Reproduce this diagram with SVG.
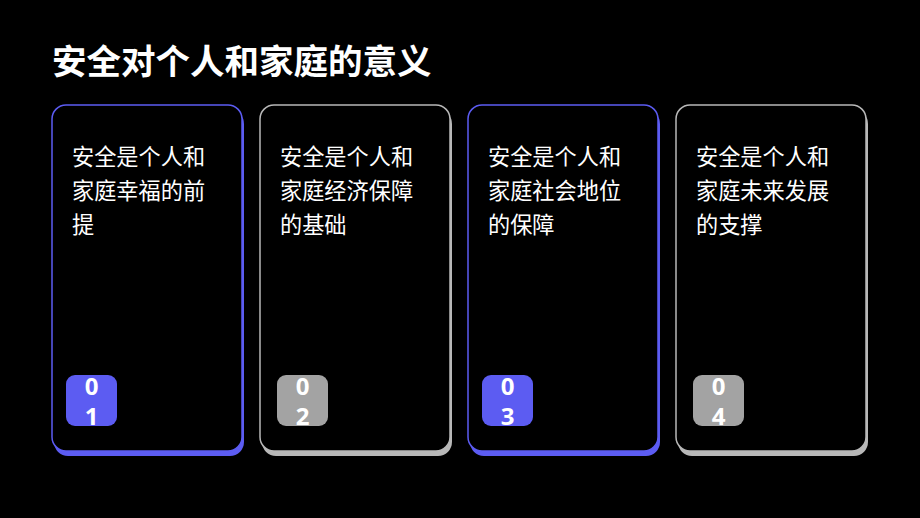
<svg xmlns="http://www.w3.org/2000/svg" width="920" height="518" viewBox="0 0 920 518">
<style>
.title{font-family:"Noto Sans CJK SC","Noto Sans",sans-serif;font-weight:bold;font-size:34.5px;fill:#ffffff}
.txt{font-family:"Noto Sans CJK SC","Noto Sans",sans-serif;font-size:22.2px;fill:#ffffff}
.num{font-family:"Open Sans","DejaVu Sans",sans-serif;font-weight:bold;font-size:24px;fill:#ffffff;text-anchor:middle}
.card{fill:#000000;stroke-width:1.5}
.blue .shadow{fill:#5c5cf2}
.blue .card{stroke:#5c5cf2}
.blue .badge{fill:#5c5cf2}
.gray .shadow{fill:#b8b8b8}
.gray .card{stroke:#b8b8b8}
.gray .badge{fill:#a3a3a3}
</style>
<rect width="920" height="518" fill="#000000"/>
<text class="title" x="52" y="74">安全对个人和家庭的意义</text>
<g id="card1" class="blue">
<rect class="shadow" x="54" y="110" width="190" height="346" rx="14"/>
<rect class="card" x="52" y="105" width="190" height="346" rx="14"/>
<text class="txt" x="72" y="165">安全是个人和</text>
<text class="txt" x="72" y="199">家庭幸福的前</text>
<text class="txt" x="72" y="233">提</text>
<rect class="badge" x="66" y="375" width="51" height="51" rx="9"/>
<text class="num" x="91.5" y="395">0</text>
<text class="num" x="91.5" y="425">1</text>
</g>
<g id="card2" class="gray">
<rect class="shadow" x="262" y="110" width="190" height="346" rx="14"/>
<rect class="card" x="260" y="105" width="190" height="346" rx="14"/>
<text class="txt" x="280" y="165">安全是个人和</text>
<text class="txt" x="280" y="199">家庭经济保障</text>
<text class="txt" x="280" y="233">的基础</text>
<rect class="badge" x="277" y="375" width="51" height="51" rx="9"/>
<text class="num" x="302.5" y="395">0</text>
<text class="num" x="302.5" y="425">2</text>
</g>
<g id="card3" class="blue">
<rect class="shadow" x="470" y="110" width="190" height="346" rx="14"/>
<rect class="card" x="468" y="105" width="190" height="346" rx="14"/>
<text class="txt" x="488" y="165">安全是个人和</text>
<text class="txt" x="488" y="199">家庭社会地位</text>
<text class="txt" x="488" y="233">的保障</text>
<rect class="badge" x="482" y="375" width="51" height="51" rx="9"/>
<text class="num" x="507.5" y="395">0</text>
<text class="num" x="507.5" y="425">3</text>
</g>
<g id="card4" class="gray">
<rect class="shadow" x="678" y="110" width="190" height="346" rx="14"/>
<rect class="card" x="676" y="105" width="190" height="346" rx="14"/>
<text class="txt" x="696" y="165">安全是个人和</text>
<text class="txt" x="696" y="199">家庭未来发展</text>
<text class="txt" x="696" y="233">的支撑</text>
<rect class="badge" x="693" y="375" width="51" height="51" rx="9"/>
<text class="num" x="718.5" y="395">0</text>
<text class="num" x="718.5" y="425">4</text>
</g>
<g id="connectors"/>
</svg>
